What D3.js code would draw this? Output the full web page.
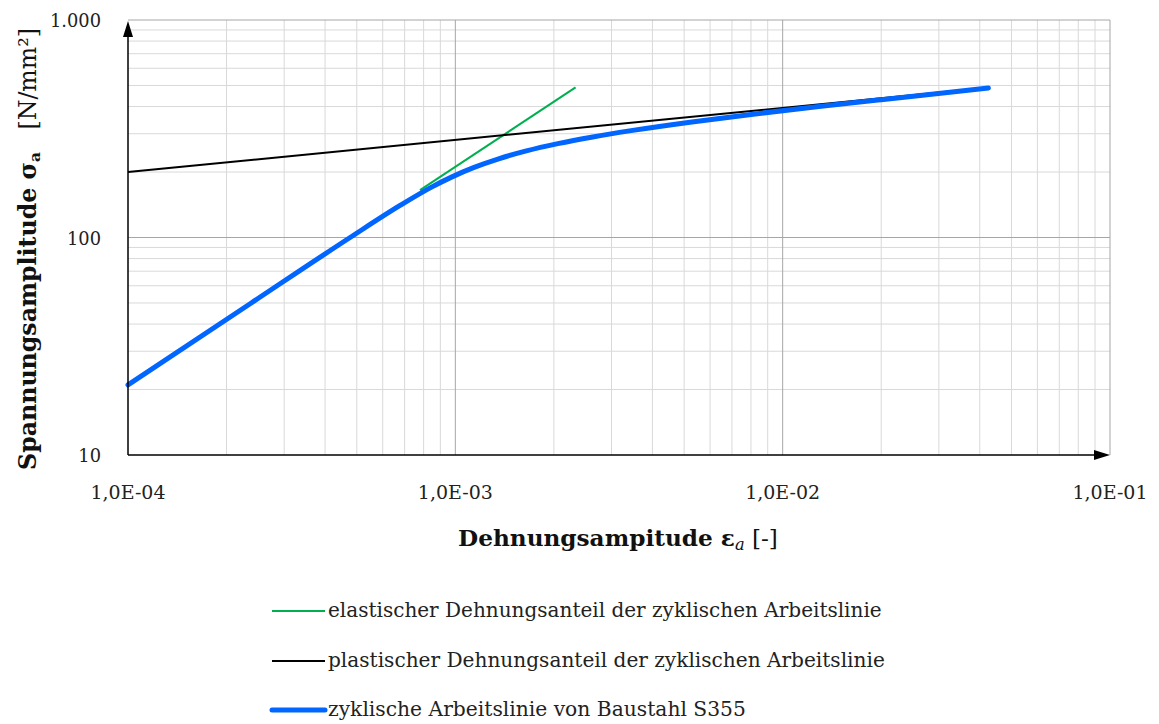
<!DOCTYPE html>
<html>
<head>
<meta charset="utf-8">
<script src="https://cdn.jsdelivr.net/npm/d3@7"></script>
<style>
  body { margin: 0; background: #fff; }
  svg text { font-family: "DejaVu Serif", "Liberation Serif", serif; }
</style>
</head>
<body>
<svg width="1159" height="724"></svg>
<script>
// Werte
const xTicks = [1e-4, 1e-3, 1e-2, 1e-1];
const xTickLabels = ["1,0E-04", "1,0E-03", "1,0E-02", "1,0E-01"];
const yTicks = [10, 100, 1000];
const yTickLabels = ["10", "100", "1.000"];

// elastischer Anteil
const elasticStrain = [0.00078, 0.00233];
const elasticStress = [165, 490];
// plastischer Anteil
const plasticStrain = [0.0001, 0.043];
const plasticStress = [200, 489];
// zyklische Arbeitslinie S355
const cyclicStrain = [0.0001, 0.000238, 0.000477, 0.000676, 0.000843, 0.000977, 0.001141, 0.001356, 0.001648, 0.002056, 0.00263, 0.00344, 0.00528, 0.00824, 0.0129, 0.020, 0.0304, 0.0425];
const cyclicStress = [21, 50, 100, 140, 170, 190, 210, 230, 250, 270, 290, 310, 340, 370, 400, 430, 460, 487];

const seriesNames = [
  "elastischer Dehnungsanteil der zyklischen Arbeitslinie",
  "plastischer Dehnungsanteil der zyklischen Arbeitslinie",
  "zyklische Arbeitslinie von Baustahl S355"
];
const seriesColors = ["#00b050", "#000000", "#0066ff"];
const seriesWidths = [2, 2, 5];

const svg = d3.select("svg");
const margin = { top: 20, right: 49, bottom: 269, left: 128 };
const width = +svg.attr("width");
const height = +svg.attr("height");

const x = d3.scaleLog()
  .domain([1e-4, 1e-1])
  .range([margin.left, width - margin.right]);
const y = d3.scaleLog()
  .domain([10, 1000])
  .range([height - margin.bottom, margin.top]);

// Schriftgröße so wählen, dass die Breite wie im Original passt
function fit(sel, target) {
  sel.each(function(d, i) {
    const t = d3.select(this);
    const w = this.getComputedTextLength();
    const fs = parseFloat(t.attr("font-size"));
    const goal = typeof target === "function" ? target(d, i) : target;
    t.attr("font-size", (fs * goal / w).toFixed(2));
  });
}

// Gitter
const minorX = [], minorY = [];
[1e-4, 1e-3, 1e-2].forEach(d => { for (let m = 2; m <= 9; m++) minorX.push(d * m); });
[10, 100].forEach(d => { for (let m = 2; m <= 9; m++) minorY.push(d * m); });

const grid = svg.append("g");
grid.selectAll(".vx").data(minorX).enter().append("line")
  .attr("x1", d => x(d)).attr("x2", d => x(d))
  .attr("y1", y(10)).attr("y2", y(1000))
  .attr("stroke", "#d9d9d9").attr("stroke-width", 1);
grid.selectAll(".hy").data(minorY).enter().append("line")
  .attr("y1", d => y(d)).attr("y2", d => y(d))
  .attr("x1", x(1e-4)).attr("x2", x(1e-1))
  .attr("stroke", "#d9d9d9").attr("stroke-width", 1);
grid.selectAll(".mx").data(xTicks.slice(1)).enter().append("line")
  .attr("x1", d => x(d)).attr("x2", d => x(d))
  .attr("y1", y(10)).attr("y2", y(1000))
  .attr("stroke", "#a6a6a6").attr("stroke-width", 1);
grid.selectAll(".my").data(yTicks.slice(1)).enter().append("line")
  .attr("y1", d => y(d)).attr("y2", d => y(d))
  .attr("x1", x(1e-4)).attr("x2", x(1e-1))
  .attr("stroke", "#a6a6a6").attr("stroke-width", 1);

// Kurven
const series = [
  d3.zip(elasticStrain, elasticStress),
  d3.zip(plasticStrain, plasticStress),
  d3.zip(cyclicStrain, cyclicStress)
];
series.forEach((s, i) => {
  svg.append("path")
    .datum(s)
    .attr("fill", "none")
    .attr("stroke", seriesColors[i])
    .attr("stroke-width", seriesWidths[i])
    .attr("stroke-linecap", i === 2 ? "round" : "butt")
    .attr("stroke-linejoin", "round")
    .attr("d", d3.line().curve(d3.curveMonotoneX).x(d => x(d[0])).y(d => y(d[1])));
});

// Achsen mit Pfeilen
const x0 = x(1e-4), y0 = y(10);
svg.append("line").attr("x1", x0).attr("x2", x(1e-1) - 10)
  .attr("y1", y0).attr("y2", y0).attr("stroke", "#000").attr("stroke-width", 1.5);
svg.append("line").attr("x1", x0).attr("x2", x0)
  .attr("y1", y0).attr("y2", y(1000) + 10).attr("stroke", "#000").attr("stroke-width", 1.5);
svg.append("path")
  .attr("d", `M${x(1e-1)},${y0} l-16,-5 l0,10 z`).attr("fill", "#000");
svg.append("path")
  .attr("d", `M${x0},${y(1000) + 1} l-5,16 l10,0 z`).attr("fill", "#000");

// Tick-Beschriftungen
const xtl = svg.selectAll(".xt").data(xTicks).enter().append("text")
  .attr("x", d => x(d)).attr("y", y0 + 44)
  .attr("text-anchor", "middle")
  .attr("font-size", 17)
  .attr("fill", "#222")
  .text((d, i) => xTickLabels[i]);
fit(xtl, 75);
const ytl = svg.selectAll(".yt").data(yTicks).enter().append("text")
  .attr("x", 101).attr("y", d => y(d) + 7)
  .attr("text-anchor", "end")
  .attr("font-size", 17)
  .attr("fill", "#222")
  .text((d, i) => yTickLabels[i]);
const ySize = 17 * 51 / ytl.filter((d, i) => i === 2).node().getComputedTextLength();
ytl.attr("font-size", ySize.toFixed(2));

// Achsentitel
const xt = svg.append("text")
  .attr("x", 618).attr("y", 546)
  .attr("text-anchor", "middle")
  .attr("font-size", 20)
  .attr("fill", "#111");
xt.append("tspan").attr("font-weight", "bold").text("Dehnungsampitude ε");
xt.append("tspan").attr("font-style", "italic").attr("font-size", "0.7em").attr("dy", "0.25em").text("a");
xt.append("tspan").attr("dy", "-0.18em").text(" [-]");
fit(xt, 320);

const yt = svg.append("text")
  .attr("transform", "translate(36,249) rotate(-90)")
  .attr("text-anchor", "middle")
  .attr("font-size", 20)
  .attr("fill", "#111");
yt.append("tspan").attr("font-weight", "bold").text("Spannungsamplitude σ");
yt.append("tspan").attr("font-weight", "bold").attr("font-size", "0.65em").attr("dy", "0.25em").text("a");
yt.append("tspan").attr("dy", "-0.16em").attr("xml:space", "preserve").text("   [N/mm²]");
fit(yt, 442);

// Legende
const legendY = [611, 661, 710];
const legend = svg.selectAll(".lg").data(seriesNames).enter().append("g")
  .attr("transform", (d, i) => `translate(272,${legendY[i]})`);
legend.append("line")
  .attr("x1", 0).attr("x2", 53).attr("y1", 0).attr("y2", 0)
  .attr("stroke", (d, i) => seriesColors[i])
  .attr("stroke-width", (d, i) => seriesWidths[i])
  .attr("stroke-linecap", (d, i) => i === 2 ? "round" : "butt");
const legendText = legend.append("text")
  .attr("x", 56).attr("y", 6)
  .attr("font-size", 18)
  .attr("fill", "#222")
  .text(d => d);
fit(legendText, (d, i) => [554, 557, 418][i]);
</script>
</body>
</html>
